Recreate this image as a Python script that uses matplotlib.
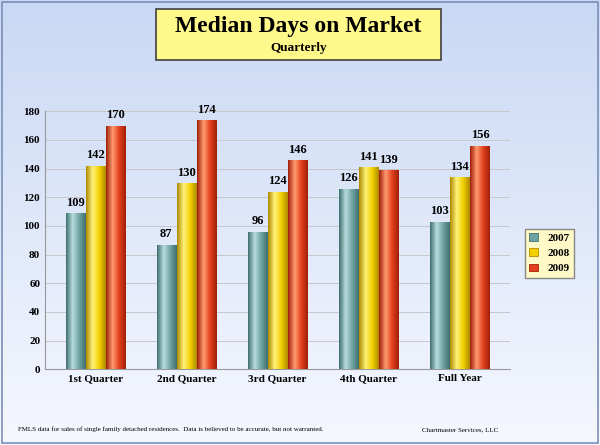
import numpy as np
import matplotlib
matplotlib.use("Agg")
import matplotlib.pyplot as plt
from matplotlib.patches import FancyBboxPatch, Rectangle
from matplotlib.colors import LinearSegmentedColormap

categories = ["1st Quarter", "2nd Quarter", "3rd Quarter", "4th Quarter", "Full Year"]
years = ["2007", "2008", "2009"]
v2007 = [109, 87, 96, 126, 103]
v2008 = [142, 130, 124, 141, 134]
v2009 = [170, 174, 146, 139, 156]
series = [v2007, v2008, v2009]
colors = ["#6fa3a3", "#f2d000", "#e2401c"]
dark = ["#3f7070", "#b08a00", "#a02008"]
light = ["#b8dcdc", "#fff27a", "#ff9a70"]

fam = ["Liberation Serif", "DejaVu Serif"]
fig = plt.figure(figsize=(6, 4.45), dpi=100)
bg = fig.add_axes([0, 0, 1, 1], zorder=-10)
grad = np.linspace(1, 0, 256).reshape(-1, 1)
bg.imshow(grad, aspect="auto", extent=[0, 1, 0, 1],
          cmap=LinearSegmentedColormap.from_list("bg", ["#f6f8ff", "#c9d8f4"]))
bg.set_xlim(0, 1); bg.set_ylim(0, 1)
bg.add_patch(Rectangle((0.003, 0.004), 0.994, 0.992, fill=False, edgecolor="#7a8fb8", linewidth=1.2))
bg.set_axis_off()

ax = fig.add_axes([0.075, 0.17, 0.775, 0.58])
ax.set_facecolor("none")
w = 0.22
x = np.arange(len(categories))
for i, (vals, c) in enumerate(zip(series, colors)):
    pos = x + (i - 1) * w
    bars = ax.bar(pos, vals, w * 0.95, color=c, edgecolor=dark[i], linewidth=0.6, zorder=3, label=years[i])
    cmap = LinearSegmentedColormap.from_list("c%d" % i, [dark[i], light[i], c, dark[i]])
    for b, v in zip(bars, vals):
        im = ax.imshow(np.linspace(0, 1, 64).reshape(1, -1), aspect="auto", cmap=cmap,
                       extent=[b.get_x(), b.get_x() + b.get_width(), 0, v], zorder=3.5)
        im.set_clip_path(b)
        ax.text(b.get_x() + b.get_width() / 2, v + 3, str(v), ha="center", va="bottom",
                fontsize=9, fontweight="bold", family=fam, zorder=5)
ax.set_xlim(-0.55, 4.55)
ax.set_ylim(0, 180)
ax.set_yticks(range(0, 181, 20))
ax.yaxis.grid(True, color="#c8c8c8", linewidth=0.7, zorder=0)
ax.set_xticks(x)
ax.set_xticklabels(categories)
for lab in ax.get_xticklabels() + ax.get_yticklabels():
    lab.set_family(fam); lab.set_fontweight("bold"); lab.set_fontsize(8)
ax.tick_params(length=0)
for s in ["top", "right"]:
    ax.spines[s].set_visible(False)
ax.spines["left"].set_color("#999999")
ax.spines["bottom"].set_color("#999999")

leg = ax.legend(loc="center left", bbox_to_anchor=(1.02, 0.45), prop={"family": fam, "weight": "bold", "size": 8},
                fancybox=False, edgecolor="#888888", facecolor="#fff9c8", handlelength=0.8)
leg.get_frame().set_alpha(1)

fig.patches.append(FancyBboxPatch((0.26, 0.865), 0.475, 0.115, boxstyle="square,pad=0",
                                  transform=fig.transFigure, facecolor="#fff88a", edgecolor="#404040", linewidth=1.2))
fig.text(0.497, 0.94, "Median Days on Market", ha="center", va="center", fontsize=17, fontweight="bold", family=fam)
fig.text(0.497, 0.893, "Quarterly", ha="center", va="center", fontsize=9.5, fontweight="bold", family=fam)
fig.text(0.03, 0.035, "FMLS data for sales of single family detached residences.  Data is believed to be accurate, but not warranted.",
         fontsize=5, family=fam, va="center")
fig.text(0.83, 0.035, "Chartmaster Services, LLC", fontsize=5, family=fam, ha="right", va="center")
fig.savefig("out.png", dpi=100)
